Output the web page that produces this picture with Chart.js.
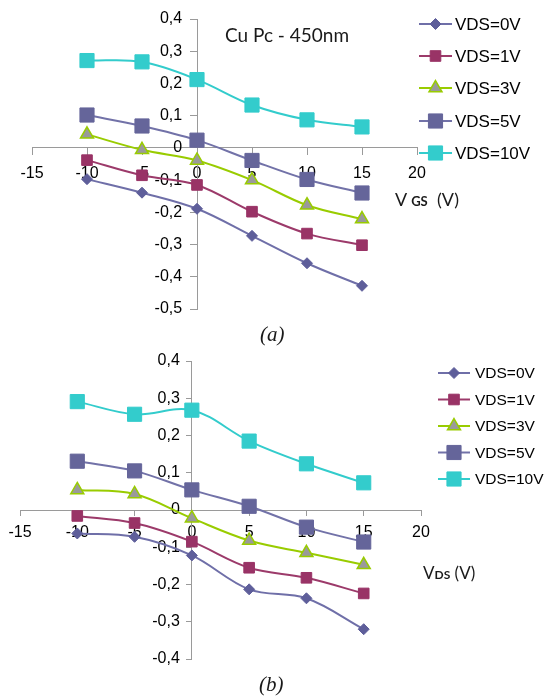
<!DOCTYPE html>
<html><head><meta charset="utf-8">
<script src="https://cdn.jsdelivr.net/npm/chart.js@4.4.1/dist/chart.umd.min.js"></script>
<style>
html,body{margin:0;padding:0;background:#fff;width:544px;height:698px;overflow:hidden;}
#wrap{position:relative;width:544px;height:698px;}
canvas{position:absolute;left:0;}
.t{position:absolute;white-space:nowrap;color:#1a1a1a;line-height:1;}
</style></head><body><div id="wrap">
<canvas id="ca" width="544" height="340" style="top:0px"></canvas>
<canvas id="cb" width="544" height="358" style="top:340px"></canvas>
<div class="t" style="left:225px;top:25px;font-family:Lato;font-size:19px;">Cu Pc - 450nm</div>
<div class="t" style="left:395px;top:190px;font-family:Lato;font-size:18px;">V <span style="font-size:13px;font-weight:bold;">GS</span>&nbsp; (V)</div>
<div class="t" style="left:423px;top:564px;font-family:Lato;font-size:17px;">V<span style="font-size:12px;font-weight:bold;">DS</span> (V)</div>
<div class="t" style="left:260px;top:324px;font-family:'Liberation Serif';font-style:italic;font-size:21px;">(a)</div>
<div class="t" style="left:259px;top:674px;font-family:'Liberation Serif';font-style:italic;font-size:21px;">(b)</div>
</div>
<script>
// ---------- data ----------
const xValues = [-10, -5, 0, 5, 10, 15];
const seriesNames = ['VDS=0V', 'VDS=1V', 'VDS=3V', 'VDS=5V', 'VDS=10V'];

// chart (a): Cu Pc - 450nm, vs V_GS
const a_vds0  = [-0.097, -0.139, -0.189, -0.273, -0.358, -0.428];
const a_vds1  = [-0.038, -0.085, -0.115, -0.198, -0.266, -0.302];
const a_vds3  = [0.042, -0.006, -0.039, -0.100, -0.178, -0.221];
const a_vds5  = [0.102, 0.068, 0.024, -0.039, -0.098, -0.140];
const a_vds10 = [0.271, 0.267, 0.212, 0.133, 0.087, 0.065];

// chart (b): vs V_DS
const b_vds0  = [-0.063, -0.072, -0.122, -0.213, -0.237, -0.320];
const b_vds1  = [-0.016, -0.035, -0.085, -0.155, -0.182, -0.224];
const b_vds3  = [0.054, 0.043, -0.022, -0.082, -0.115, -0.147];
const b_vds5  = [0.131, 0.105, 0.054, 0.010, -0.046, -0.086];
const b_vds10 = [0.291, 0.257, 0.268, 0.185, 0.124, 0.073];

const xTickValues = [-15, -10, -5, 0, 5, 10, 15, 20];
const xTickLabels = ['-15', '-10', '-5', '0', '5', '10', '15', '20'];
const yTickValuesA = [0.4, 0.3, 0.2, 0.1, 0, -0.1, -0.2, -0.3, -0.4, -0.5];
const yTickLabelsA = ['0,4', '0,3', '0,2', '0,1', '0', '-0,1', '-0,2', '-0,3', '-0,4', '-0,5'];
const yTickValuesB = [0.4, 0.3, 0.2, 0.1, 0, -0.1, -0.2, -0.3, -0.4];
const yTickLabelsB = ['0,4', '0,3', '0,2', '0,1', '0', '-0,1', '-0,2', '-0,3', '-0,4'];

// ---------- styles ----------
const lineColors  = ['#6F6FA8', '#9C3A6A', '#99CC00', '#7272A8', '#33CCCC'];
const fillColors  = ['#5E5E9A', '#993366', '#9A9A9A', '#65659A', '#33CCCC'];
const edgeColors  = ['#5E5E9A', '#993366', '#99CC00', '#65659A', '#33CCCC'];
const pointStyles = ['rectRot', 'rect', 'triangle', 'rect', 'rect'];
const pointSizes  = [5.5, 7.5, 7.5, 10, 10];

function buildDatasets(series) {
  return series.map((vals, i) => ({
    label: seriesNames[i],
    data: xValues.map((x, k) => ({x: x, y: vals[k]})),
    borderColor: lineColors[i],
    borderWidth: 2,
    tension: 0.35,
    pointStyle: pointStyles[i],
    pointRadius: pointSizes[i],
    pointHoverRadius: pointSizes[i],
    pointBackgroundColor: fillColors[i],
    pointBorderColor: edgeColors[i],
    pointBorderWidth: i === 2 ? 1.5 : 1,
    order: 4 - i,
    clip: false
  }));
}

function drawMarker(ctx, style, r, x, y, bw) {
  if (Chart.helpers && Chart.helpers.drawPoint) {
    Chart.helpers.drawPoint(ctx, {pointStyle: style, radius: r, borderWidth: bw, rotation: 0}, x, y);
    return;
  }
  ctx.beginPath();
  if (style === 'rectRot') {
    ctx.moveTo(x - r, y); ctx.lineTo(x, y - r); ctx.lineTo(x + r, y); ctx.lineTo(x, y + r);
  } else if (style === 'triangle') {
    ctx.moveTo(x, y - r); ctx.lineTo(x + r * 0.866, y + r / 2); ctx.lineTo(x - r * 0.866, y + r / 2);
  } else {
    const s = r * Math.SQRT1_2; ctx.rect(x - s, y - s, 2 * s, 2 * s);
  }
  ctx.closePath(); ctx.fill(); if (bw > 0) ctx.stroke();
}

const xlLegend = {
  id: 'xlLegend',
  afterDraw(chart, args, opts) {
    const ctx = chart.ctx;
    ctx.save();
    chart.data.datasets.forEach((ds, i) => {
      const y = opts.ys[i];
      ctx.strokeStyle = ds.borderColor; ctx.lineWidth = ds.borderWidth;
      ctx.beginPath(); ctx.moveTo(opts.x0, y); ctx.lineTo(opts.x1, y); ctx.stroke();
      ctx.fillStyle = ds.pointBackgroundColor; ctx.strokeStyle = ds.pointBorderColor; ctx.lineWidth = ds.pointBorderWidth;
      drawMarker(ctx, ds.pointStyle, ds.pointRadius, (opts.x0 + opts.x1) / 2, y, ds.pointBorderWidth);
      ctx.fillStyle = '#000'; ctx.font = opts.font; ctx.textBaseline = 'middle'; ctx.textAlign = 'left';
      ctx.fillText(ds.label, opts.tx, y + 1);
    });
    ctx.restore();
  }
};

// labelShift: x-axis value offset where the y tick labels' right edge sits (left of the axis)
function makeScales(yMin, yMax, yVals, yLabels, tl, xPad, labelShift) {
  const gridCfg = {display: true, drawOnChartArea: false, drawTicks: true, tickLength: tl, color: '#9a9a9a', lineWidth: 1};
  const borderCfg = {display: true, color: '#9a9a9a', width: 1};
  const font = {family: 'Liberation Sans', size: 16};
  return {
    x: {
      type: 'linear', min: -15, max: 20, position: {y: 0}, z: 1,
      afterBuildTicks: s => { s.ticks = xTickValues.map(v => ({value: v})); },
      ticks: {font: font, color: '#000', padding: xPad, maxRotation: 0, autoSkip: false,
              callback: (v, i) => xTickLabels[i]},
      grid: gridCfg, border: borderCfg
    },
    y: {
      type: 'linear', min: yMin, max: yMax, position: {x: 0},
      afterBuildTicks: s => { s.ticks = yVals.map(v => ({value: v})); },
      ticks: {display: false},
      grid: gridCfg, border: borderCfg
    },
    yl: {
      type: 'linear', min: yMin, max: yMax, position: {x: labelShift},
      afterBuildTicks: s => { s.ticks = yVals.map(v => ({value: v})); },
      ticks: {font: font, color: '#000', padding: 0, autoSkip: false,
              callback: (v, i) => yLabels[i]},
      grid: {display: false}, border: {display: false}
    }
  };
}

function makeChart(id, series, scales, padding, legendOpts) {
  return new Chart(document.getElementById(id), {
    type: 'line',
    data: {datasets: buildDatasets(series)},
    plugins: [xlLegend],
    options: {
      responsive: false, animation: false, devicePixelRatio: 1,
      layout: {padding: padding},
      scales: scales,
      plugins: {legend: {display: false}, tooltip: {enabled: false}, xlLegend: legendOpts}
    }
  });
}

makeChart('ca', [a_vds0, a_vds1, a_vds3, a_vds5, a_vds10],
  makeScales(-0.5, 0.4, yTickValuesA, yTickLabelsA, 7, 9.5, -1.35),
  {left: 32, right: 127, top: 19, bottom: 31},
  {x0: 419, x1: 452, tx: 455, ys: [24, 56, 88, 121, 153], font: '17px "Liberation Sans"'});

makeChart('cb', [b_vds0, b_vds1, b_vds3, b_vds5, b_vds10],
  makeScales(-0.4, 0.4, yTickValuesB, yTickLabelsB, 5, 7.5, -1.05),
  {left: 20, right: 123, top: 21, bottom: 39},
  {x0: 438, x1: 470, tx: 475, ys: [33, 59.5, 86, 112.5, 139], font: '15.5px "Liberation Sans"'});
</script>
</body></html>
